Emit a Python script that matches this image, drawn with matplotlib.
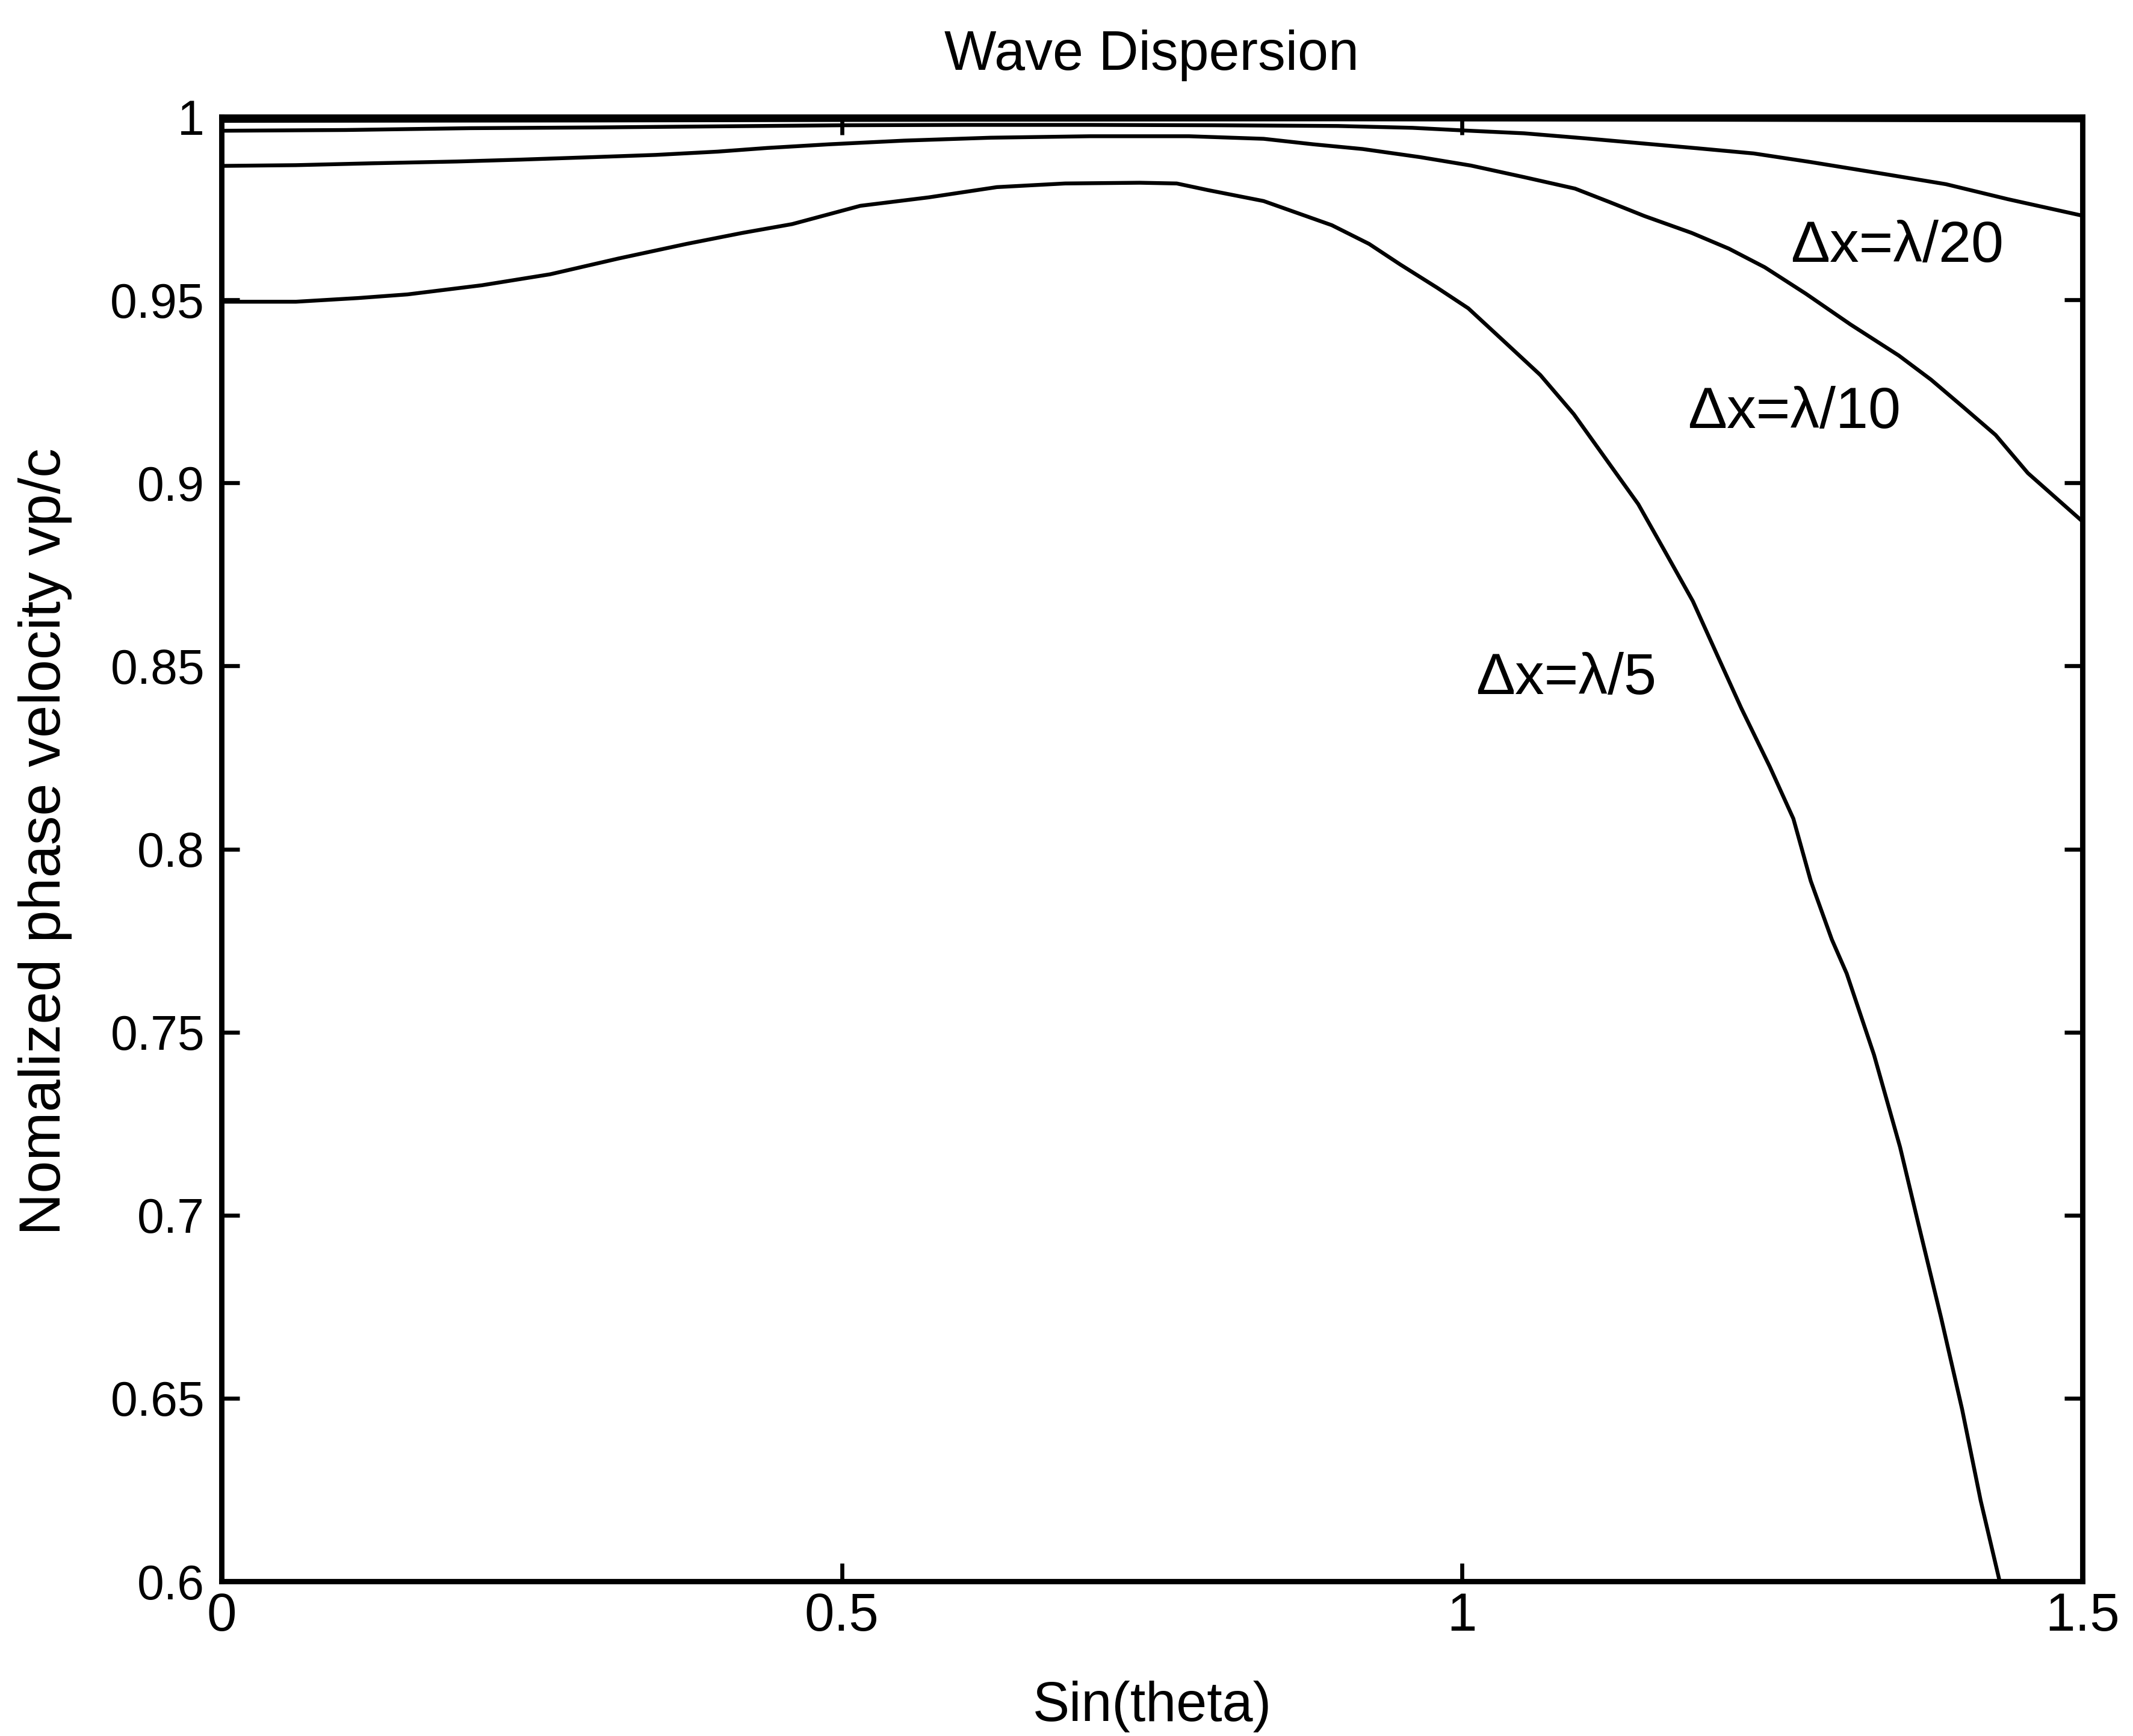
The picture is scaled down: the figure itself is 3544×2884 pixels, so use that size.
import numpy as np
import matplotlib
matplotlib.use('Agg')
from matplotlib import pyplot as plt
from matplotlib import font_manager
from matplotlib.ticker import FormatStrFormatter

plt.rcParams['font.family'] = ['Liberation Sans', 'DejaVu Sans']

# normalized phase velocity vs sin(theta) for several grid spacings
sin_lam5 = [0.0, 0.06, 0.11, 0.15, 0.21, 0.265, 0.32, 0.375, 0.42, 0.46,
            0.515, 0.57, 0.625, 0.68, 0.74, 0.77, 0.795, 0.84, 0.895, 0.925,
            0.95, 0.98, 1.005, 1.035, 1.063, 1.09, 1.12, 1.142, 1.164, 1.186,
            1.206, 1.225, 1.248, 1.267, 1.281, 1.298, 1.310, 1.332, 1.353,
            1.368, 1.386, 1.403, 1.418, 1.433]
vp_lam5 = [0.9495, 0.9495, 0.9505, 0.9515, 0.954, 0.957, 0.9613, 0.9653,
           0.9683, 0.9707, 0.9757, 0.978, 0.9808, 0.9818, 0.982, 0.9818,
           0.980, 0.977, 0.9704, 0.9653, 0.9597, 0.9533, 0.9477, 0.9383,
           0.9295, 0.9188, 0.9046, 0.8942, 0.881, 0.8677, 0.8527, 0.8385,
           0.8225, 0.8083, 0.7913, 0.7753, 0.766, 0.7438, 0.7186, 0.6973,
           0.6721, 0.647, 0.622, 0.6004]

sin_lam10 = [0.0, 0.06, 0.12, 0.19, 0.24, 0.30, 0.35, 0.40, 0.44, 0.49,
             0.55, 0.62, 0.70, 0.78, 0.84, 0.88, 0.92, 0.966, 1.007, 1.049,
             1.091, 1.119, 1.147, 1.185, 1.215, 1.244, 1.277, 1.313, 1.352,
             1.378, 1.404, 1.430, 1.456, 1.5]
vp_lam10 = [0.9866, 0.9868, 0.9873, 0.9878, 0.9883, 0.9890, 0.9896, 0.9905,
            0.9915, 0.9925, 0.9935, 0.9943, 0.9947, 0.9947, 0.9940, 0.9925,
            0.9912, 0.9890, 0.9867, 0.9836, 0.9804, 0.9767, 0.9729, 0.9683,
            0.9640, 0.9589, 0.9517, 0.9433, 0.9348, 0.9282, 0.9207, 0.9131,
            0.9027, 0.8895]

sin_lam20 = [0.0, 0.10, 0.20, 0.30, 0.40, 0.50, 0.60, 0.70, 0.80, 0.90,
             0.96, 1.00, 1.05, 1.10, 1.15, 1.19, 1.235, 1.28, 1.34, 1.39,
             1.44, 1.5]
vp_lam20 = [0.9962, 0.9964, 0.9969, 0.9971, 0.9974, 0.9977, 0.9978, 0.9978,
            0.9977, 0.9975, 0.9970, 0.9963, 0.9955, 0.9941, 0.9926, 0.9914,
            0.9900, 0.9877, 0.9844, 0.9816, 0.9775, 0.9730]

sin_fine = [0.0, 0.3, 0.6, 0.9, 1.2, 1.5]
vp_fine = [0.9989, 0.9990, 0.9992, 0.9993, 0.9992, 0.9990]

xticks = [0, 0.5, 1, 1.5]
yticks = [0.6, 0.65, 0.7, 0.75, 0.8, 0.85, 0.9, 0.95, 1.0]

# narrow face for the x tick numbers if the system has one
names = {f.name for f in font_manager.fontManager.ttflist}
if 'Liberation Sans Narrow' in names:
    xtick_font, xtick_size = 'Liberation Sans Narrow', 19
else:
    xtick_font, xtick_size = 'Liberation Sans', 16

fig = plt.figure(figsize=(8.86, 7.21), dpi=400)
ax = fig.add_axes([0.1038, 0.0891, 0.8725, 0.8436])

for x, y in [(sin_fine, vp_fine), (sin_lam20, vp_lam20),
             (sin_lam10, vp_lam10), (sin_lam5, vp_lam5)]:
    ax.plot(x, y, color='black', lw=1.15)

ax.set_xlim(0, 1.5)
ax.set_ylim(0.6, 1.0)
ax.set_xticks(xticks)
ax.set_yticks(yticks)
ax.xaxis.set_major_formatter(FormatStrFormatter('%g'))
ax.yaxis.set_major_formatter(FormatStrFormatter('%g'))
ax.tick_params(direction='in', top=True, right=True, length=5.4, width=1.2,
               labelsize=14.5, pad=5, colors='black')
ax.tick_params(axis='x', labelsize=xtick_size, pad=3)
for lbl in ax.get_xticklabels():
    lbl.set_family([xtick_font, 'DejaVu Sans'])
for s in ax.spines.values():
    s.set_linewidth(1.6)

ax.text(1.265, 0.9604, '\u0394x=\u03bb/20', fontsize=17.5)
ax.text(1.182, 0.915, '\u0394x=\u03bb/10', fontsize=17.5)
ax.text(1.011, 0.8423, '\u0394x=\u03bb/5', fontsize=17.5)

ax.set_title('Wave Dispersion', fontsize=16.5, pad=14)
ax.set_xlabel('Sin(theta)', fontsize=16.5)
ax.xaxis.set_label_coords(0.5, -0.068)
ax.set_ylabel('Nomalized phase velocity vp/c', fontsize=17.5)
ax.yaxis.set_label_coords(-0.08, 0.505)

fig.savefig('out.png', dpi=400)
